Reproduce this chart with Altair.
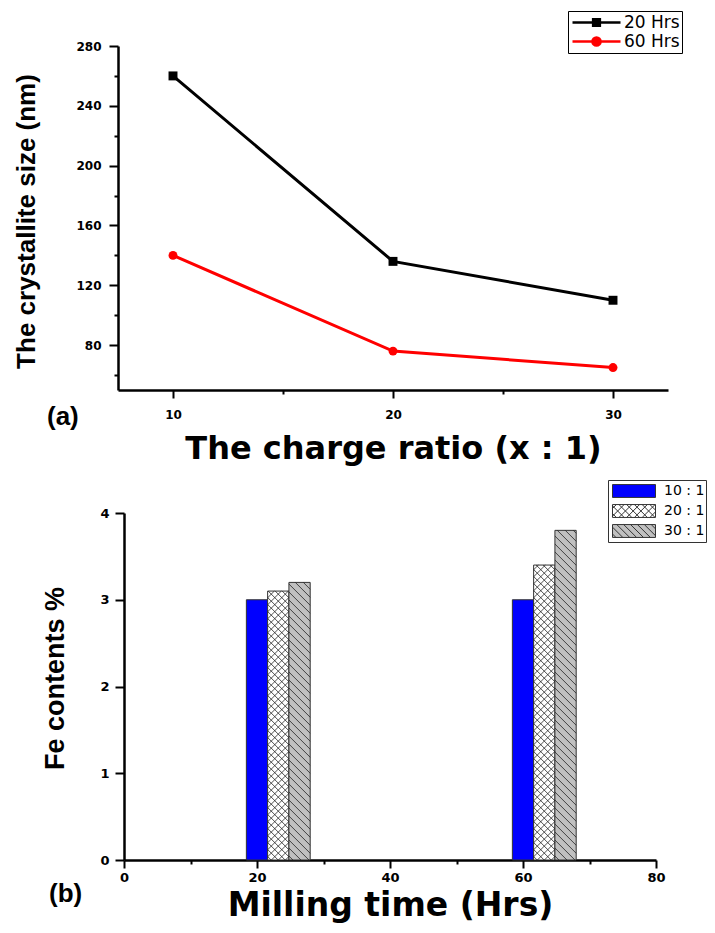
import altair as alt
import pandas as pd

# ---------------- data: panel (a) ----------------
charge_ratio = [10, 20, 30]
size_20h = [260, 136, 110]
size_60h = [140, 76, 65]
series_a = ["20 Hrs", "60 Hrs"]

# ---------------- data: panel (b) ----------------
milling_time = [20, 60]
ratio_labels = ["10 : 1", "20 : 1", "30 : 1"]
fe_10 = [3.0, 3.0]
fe_20 = [3.1, 3.4]
fe_30 = [3.2, 3.8]

# ---------------- layout / style constants ----------------
W1, H1 = 550, 344
W2, H2 = 538, 347
X2_START = 6
BAR_W = 3.2
KX = (W2 - X2_START) / 80.0
KY = H2 / 4.0

df_a = pd.DataFrame({
    "ratio": charge_ratio * 2,
    "size": size_20h + size_60h,
    "series": [series_a[0]] * 3 + [series_a[1]] * 3,
})

fe_values = [fe_10, fe_20, fe_30]
bars = []
for i, t in enumerate(milling_time):
    for j, lab in enumerate(ratio_labels):
        xa = t - BAR_W / 2 + j * BAR_W
        bars.append({"xa": xa, "xb": xa + BAR_W, "ya": fe_values[j][i], "yb": 0.0, "ratio": lab})
df_b = pd.DataFrame(bars)


def hatch(x0, x1, v, period, back, fwd):
    w = (x1 - x0) * KX
    h = v * KY
    segs = []
    if back:
        c = period / 2
        while c < w + h:
            lo, hi = max(0, c - h), min(w, c)
            if hi - lo > 0.3:
                segs.append((x0 + lo / KX, x0 + hi / KX, (c - lo) / KY, (c - hi) / KY))
            c += period
    if fwd:
        c = -w + period / 2
        while c < h:
            lo, hi = max(0, -c), min(w, h - c)
            if hi - lo > 0.3:
                segs.append((x0 + lo / KX, x0 + hi / KX, (lo + c) / KY, (hi + c) / KY))
            c += period
    return segs


rules = []
for b in bars:
    if b["ratio"] == ratio_labels[1]:
        rules += hatch(b["xa"], b["xb"], b["ya"], 7.0, True, True)
    elif b["ratio"] == ratio_labels[2]:
        rules += hatch(b["xa"], b["xb"], b["ya"], 8.0, True, False)
df_r = pd.DataFrame(rules, columns=["xa", "xb", "ya", "yb"])

# ---------------- legend symbol paths ----------------
sq = 0.14
r = 0.17
path_sq = f"M-1,0H1M{-sq},{-sq}H{sq}V{sq}H{-sq}Z"
path_ci = f"M-1,0H1M{r},0A{r},{r} 0 1,1 {-r},0A{r},{r} 0 1,1 {r},0Z"
expr_top = f"datum.value === '{series_a[0]}' ? '{path_sq}' : '{path_ci}'"
expr_top_stroke = f"datum.value === '{series_a[0]}' ? '#000000' : '#ff0000'"

HH = 0.3


def legend_path(period, back, fwd):
    parts = [f"M-1,{-HH}H1V{HH}H-1Z"]
    if back:
        c = -1 - HH + period / 2
        while c < 1 + HH:
            lo, hi = max(-1, c - HH), min(1, c + HH)
            if hi - lo > 0.02:
                parts.append(f"M{lo:.3f},{lo - c:.3f}L{hi:.3f},{hi - c:.3f}")
            c += period
    if fwd:
        c = -1 - HH + period / 2
        while c < 1 + HH:
            lo, hi = max(-1, c - HH), min(1, c + HH)
            if hi - lo > 0.02:
                parts.append(f"M{lo:.3f},{c - lo:.3f}L{hi:.3f},{c - hi:.3f}")
            c += period
    return "".join(parts)


p_plain = legend_path(1, False, False)
p_cross = legend_path(0.36, True, True)
p_back = legend_path(0.32, True, False)
expr_bot = (f"datum.value === '{ratio_labels[0]}' ? '{p_plain}' : "
            f"(datum.value === '{ratio_labels[1]}' ? '{p_cross}' : '{p_back}')")

axis_style = dict(
    domainColor="black", domainWidth=2.5, tickColor="black", tickWidth=2,
    labelFont="DejaVu Sans", labelFontWeight="bold", labelColor="black",
    grid=False, labelOverlap=False, labelFlush=False, titleColor="black",
)

# ---------------- panel (a) ----------------
base_a = alt.Chart(df_a).encode(
    x=alt.X("ratio:Q",
            scale=alt.Scale(domain=[7.5, 32.5], nice=False, zero=False),
            axis=alt.Axis(values=[10, 15, 20, 25, 30],
                          labelExpr="datum.value % 10 === 0 ? datum.label : ''",
                          tickSize=alt.ExprRef("datum.value % 10 === 0 ? 8 : 4"),
                          labelPadding=11, labelFontSize=12,
                          title="The charge ratio (x : 1)",
                          titleFont="DejaVu Sans", titleFontSize=32, titleFontWeight="bold",
                          titleX=W1 / 2, titleY=68, titleAlign="center", titleBaseline="alphabetic",
                          **axis_style)),
    y=alt.Y("size:Q",
            scale=alt.Scale(domain=[50, 280], nice=False, zero=False),
            axis=alt.Axis(values=list(range(60, 281, 20)),
                          labelExpr="datum.value % 40 === 0 ? datum.label : ''",
                          tickSize=alt.ExprRef("datum.value % 40 === 0 ? 9 : 4"),
                          labelPadding=8, labelFontSize=12,
                          title="The crystallite size (nm)",
                          titleFont="Liberation Sans", titleFontSize=26, titleFontWeight="bold",
                          titleAngle=-90, titleX=-84, titleY=175, titleAlign="center",
                          titleBaseline="alphabetic",
                          **axis_style)),
)

col_scale = alt.Scale(domain=series_a, range=["#000000", "#ff0000"])
leg_a = alt.Legend(
    title=None, orient="none", legendX=450, legendY=-35,
    symbolType=alt.ExprRef(expr_top), symbolSize=2304,
    symbolStrokeColor=alt.ExprRef(expr_top_stroke), symbolStrokeWidth=2.5,
    labelFont="DejaVu Sans", labelFontSize=17, labelColor="black",
    labelOffset=2, symbolOffset=1, padding=2, rowPadding=0, clipHeight=19,
    strokeColor="black", fillColor="white",
)

line_a = base_a.mark_line(strokeWidth=3).encode(
    color=alt.Color("series:N", scale=col_scale, legend=None))
pts_a = base_a.mark_point(filled=True, opacity=1, size=80).encode(
    color=alt.Color("series:N", scale=col_scale, legend=leg_a),
    shape=alt.Shape("series:N", scale=alt.Scale(domain=series_a, range=["square", "circle"]), legend=None),
)

top = alt.layer(line_a, pts_a).resolve_scale(color="independent").properties(
    width=W1, height=H1,
    title=alt.TitleParams("(a)", orient="bottom", anchor="start", frame="group",
                          font="Liberation Sans", fontSize=26, fontWeight="bold", color="black",
                          dx=-71, dy=-60, offset=0),
)

# ---------------- panel (b) ----------------
base_b = alt.Chart().encode(
    x=alt.X("xa:Q",
            scale=alt.Scale(domain=[0, 80], range=[X2_START, W2], nice=False, zero=False),
            axis=alt.Axis(values=list(range(0, 81, 10)),
                          labelExpr="datum.value % 20 === 0 ? datum.label : ''",
                          tickSize=alt.ExprRef("datum.value % 20 === 0 ? 8 : 4"),
                          labelPadding=3, labelFontSize=13,
                          title="Milling time (Hrs)",
                          titleFont="DejaVu Sans", titleFontSize=33, titleFontWeight="bold",
                          titleX=(X2_START + W2) / 2, titleY=55, titleAlign="center",
                          titleBaseline="alphabetic",
                          **axis_style)),
    x2="xb:Q",
    y=alt.Y("ya:Q",
            scale=alt.Scale(domain=[0, 4], nice=False, zero=True),
            axis=alt.Axis(values=[0, 0.5, 1, 1.5, 2, 2.5, 3, 3.5, 4], format="d",
                          labelExpr="datum.value % 1 === 0 ? datum.label : ''",
                          tickSize=alt.ExprRef("datum.value % 1 === 0 ? 9 : 4"),
                          labelPadding=6, labelFontSize=13, offset=-X2_START,
                          title="Fe contents %",
                          titleFont="Liberation Sans", titleFontSize=27, titleFontWeight="bold",
                          titleAngle=-90, titleX=-61, titleY=165, titleAlign="center",
                          titleBaseline="alphabetic",
                          **axis_style)),
    y2="yb:Q",
)

fill_scale = alt.Scale(domain=ratio_labels, range=["#0000ff", "#ffffff", "#c0c0c0"])
leg_b = alt.Legend(
    title=None, orient="none", legendX=490, legendY=-33,
    symbolType=alt.ExprRef(expr_bot), symbolSize=1849,
    symbolStrokeColor="#333333", symbolStrokeWidth=1,
    labelFont="DejaVu Sans", labelFontSize=14, labelColor="black",
    labelOffset=8, symbolOffset=3, padding=1, rowPadding=0, clipHeight=20,
    strokeColor="#333333", fillColor="white",
)

bars_b = base_b.mark_bar(stroke="#333333", strokeWidth=1, opacity=1).encode(
    fill=alt.Fill("ratio:N", scale=fill_scale, legend=leg_b)
).properties(data=df_b)
hatch_b = base_b.mark_rule(color="#222222", strokeWidth=0.8).properties(data=df_r)

bottom = alt.layer(bars_b, hatch_b).properties(
    width=W2, height=H2,
    title=alt.TitleParams("(b)", orient="bottom", anchor="start", frame="group",
                          font="Liberation Sans", fontSize=26, fontWeight="bold", color="black",
                          dx=-69, dy=-41, offset=0),
)

chart = alt.vconcat(top, bottom, spacing=123, bounds="flush").resolve_scale(
    x="independent", y="independent", fill="independent",
    color="independent", shape="independent",
).properties(
    padding={"left": 4, "top": 2, "right": 0, "bottom": 0},
    background="white",
).configure_view(stroke="transparent")

chart.save("out.html", embed_options={"renderer": "svg", "actions": False})
